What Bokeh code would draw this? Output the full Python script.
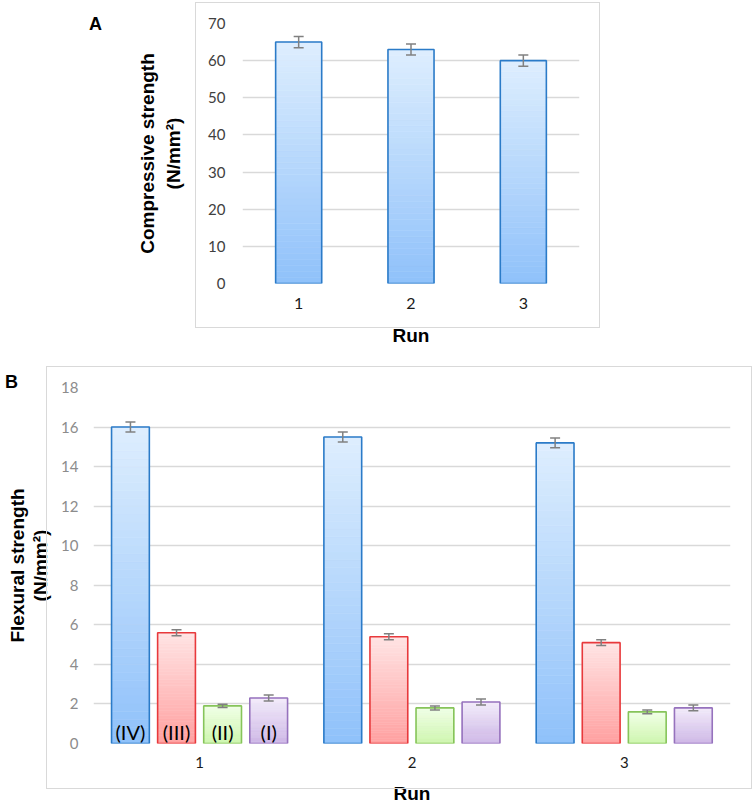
from bokeh.plotting import figure
from bokeh.models import (ColumnDataSource, FactorRange, Range1d, FixedTicker,
                          Whisker, TeeHead, Div)
from bokeh.transform import dodge
from bokeh.core.properties import value
from bokeh.embed import file_html
from bokeh.resources import INLINE

# ---------------- data ----------------
runs = ["1", "2", "3"]

compressive = [65, 63, 60]
compressive_err = [1.5, 1.5, 1.5]
compressive_ticks = [0, 10, 20, 30, 40, 50, 60, 70]

series = ["(IV)", "(III)", "(II)", "(I)"]
flex_iv = [16.0, 15.5, 15.2]
flex_iii = [5.6, 5.4, 5.1]
flex_ii = [1.9, 1.8, 1.6]
flex_i = [2.3, 2.1, 1.8]
err_iv = [0.25, 0.25, 0.25]
err_iii = [0.15, 0.15, 0.15]
err_ii = [0.08, 0.1, 0.1]
err_i = [0.15, 0.15, 0.15]
flex_ticks = [0, 2, 4, 6, 8, 10, 12, 14, 16, 18]

# ---------------- styles ----------------
BLUE = ("#deeefe", "#8fc1fa", "#2b7bc8")
RED = ("#ffe4e4", "#ffa0a0", "#e8393c")
GREEN = ("#f0ffe6", "#cdf6ad", "#86c45a")
PURPLE = ("#f2ebfa", "#cdb6e6", "#9672bd")
ERR_COLOR = "#808080"
GRID = "#d9d9d9"
TICK_FONT = "Lato"
TITLE_FONT = "Liberation Sans"


def _rgb(h):
    h = h.lstrip("#")
    return tuple(int(h[i:i + 2], 16) for i in (0, 2, 4))


def _mix(c_bottom, c_top, t):
    a, b = _rgb(c_bottom), _rgb(c_top)
    return "#%02x%02x%02x" % tuple(round(a[k] + (b[k] - a[k]) * t) for k in range(3))


def gradient_bars(p, xs, tops, off, width, colors, n=40):
    top_c, bot_c, line_c = colors
    xx, bb, tt, cc = [], [], [], []
    for x, v in zip(xs, tops):
        for i in range(n):
            xx.append(x)
            bb.append(v * i / n)
            tt.append(v * (i + 1) / n)
            cc.append(_mix(bot_c, top_c, (i + 0.5) / n))
    src = ColumnDataSource(dict(x=xx, bottom=bb, top=tt, color=cc))
    p.vbar(x=dodge("x", off, range=p.x_range), bottom="bottom", top="top",
           width=width, fill_color="color", line_color="color", line_width=0.6,
           source=src)
    src2 = ColumnDataSource(dict(x=list(xs), top=list(tops)))
    p.vbar(x=dodge("x", off, range=p.x_range), top="top", width=width,
           fill_color=None, line_color=line_c, line_width=1.6, source=src2)


def error_bars(p, xs, vals, errs, off):
    src = ColumnDataSource(dict(x=list(xs),
                                upper=[v + e for v, e in zip(vals, errs)],
                                lower=[v - e for v, e in zip(vals, errs)]))
    w = Whisker(source=src, base=dodge("x", off, range=p.x_range),
                upper="upper", lower="lower", level="overlay",
                line_color=ERR_COLOR, line_width=1.5)
    w.upper_head = TeeHead(size=10, line_color=ERR_COLOR, line_width=1.5)
    w.lower_head = TeeHead(size=10, line_color=ERR_COLOR, line_width=1.5)
    p.add_layout(w)


def style(p, ylabel, ytick_color, ytick_standoff, ylabel_standoff,
          xtick_standoff, xlabel_standoff, line_height, xtick_size):
    p.background_fill_color = "white"
    p.border_fill_color = None
    p.outline_line_color = None
    p.xgrid.grid_line_color = None
    p.ygrid.grid_line_color = GRID
    p.ygrid.grid_line_width = 1.5
    for ax in (p.xaxis[0], p.yaxis[0]):
        ax.axis_line_color = None
        ax.major_tick_line_color = None
        ax.minor_tick_line_color = None
        ax.major_tick_out = 0
        ax.major_tick_in = 0
        ax.minor_tick_out = 0
        ax.minor_tick_in = 0
        ax.major_label_text_font = TICK_FONT
        ax.axis_label_text_font = TITLE_FONT
        ax.axis_label_text_font_style = "bold"
        ax.axis_label_text_font_size = "19px"
        ax.axis_label_text_color = "black"
    p.xaxis.major_label_text_font_size = xtick_size
    p.xaxis.major_label_text_color = "#1a1a1a"
    p.xaxis.major_label_standoff = xtick_standoff
    p.xaxis.axis_label = "Run"
    p.xaxis.axis_label_standoff = xlabel_standoff
    p.yaxis.major_label_text_font_size = "15px"
    p.yaxis.major_label_text_color = ytick_color
    p.yaxis.major_label_standoff = ytick_standoff
    p.yaxis.axis_label = ylabel
    p.yaxis.axis_label_standoff = ylabel_standoff
    p.yaxis.axis_label_text_line_height = line_height


def box(left, top, width, height):
    return Div(text="", width=width, height=height, margin=0,
               styles={"position": "absolute", "left": f"{left}px",
                       "top": f"{top}px", "width": f"{width}px",
                       "height": f"{height}px", "box-sizing": "border-box",
                       "border": "1.5px solid #d9d9d9", "margin": "0px",
                       "pointer-events": "none"})


def letter(text, left, top):
    return Div(text=text, width=20, height=20, margin=0,
               styles={"position": "absolute", "left": f"{left}px",
                       "top": f"{top}px", "margin": "0px",
                       "font-family": TITLE_FONT,
                       "font-weight": "bold", "font-size": "18px",
                       "line-height": "18px", "color": "black"})


# ---------------- panel A ----------------
pA = figure(x_range=FactorRange(factors=runs), y_range=Range1d(0, 70),
            width=598, height=348, output_backend="svg", toolbar_location=None,
            min_border_left=240, min_border_right=21, min_border_top=21,
            min_border_bottom=67,
            styles={"position": "absolute", "left": "2px", "top": "2px"})
style(pA, "Compressive strength\n(N/mm²)", "#404040", 17, 21, 14, 13, 1.25,
      "16px")
pA.yaxis.ticker = FixedTicker(ticks=compressive_ticks)
gradient_bars(pA, runs, compressive, 0.0, 0.41, BLUE)
error_bars(pA, runs, compressive, compressive_err, 0.0)

# ---------------- panel B ----------------
pB = figure(x_range=FactorRange(factors=runs), y_range=Range1d(0, 18),
            width=750, height=456, output_backend="svg", toolbar_location=None,
            min_border_left=91, min_border_right=22, min_border_top=37,
            min_border_bottom=63,
            styles={"position": "absolute", "left": "2px", "top": "350px"})
style(pB, "Flexural strength\n(N/mm²)", "#8c8c8c", 15, 7, 13, 12, 1.1, "15px")
pB.yaxis.ticker = FixedTicker(ticks=flex_ticks)

offsets = [-0.326, -0.109, 0.108, 0.325]
bar_w = 0.178
flex_vals = [flex_iv, flex_iii, flex_ii, flex_i]
flex_errs = [err_iv, err_iii, err_ii, err_i]
flex_colors = [BLUE, RED, GREEN, PURPLE]
for vals, errs, col, off in zip(flex_vals, flex_errs, flex_colors, offsets):
    gradient_bars(pB, runs, vals, off, bar_w, col)
    error_bars(pB, runs, vals, errs, off)

for name, off in zip(series, offsets):
    src = ColumnDataSource(dict(x=[runs[0]], y=[0], t=[name]))
    pB.text(x=dodge("x", off, range=pB.x_range), y="y", text="t", source=src,
            text_font=value(TICK_FONT), text_font_size="20px",
            text_align="center", text_baseline="bottom", text_color="black")

roots = [pA, pB,
         box(195, 2, 405, 326), box(46, 366, 706, 423),
         letter("A", 89, 15), letter("B", 5, 373)]

open("out.html", "w").write(file_html(roots, INLINE))
